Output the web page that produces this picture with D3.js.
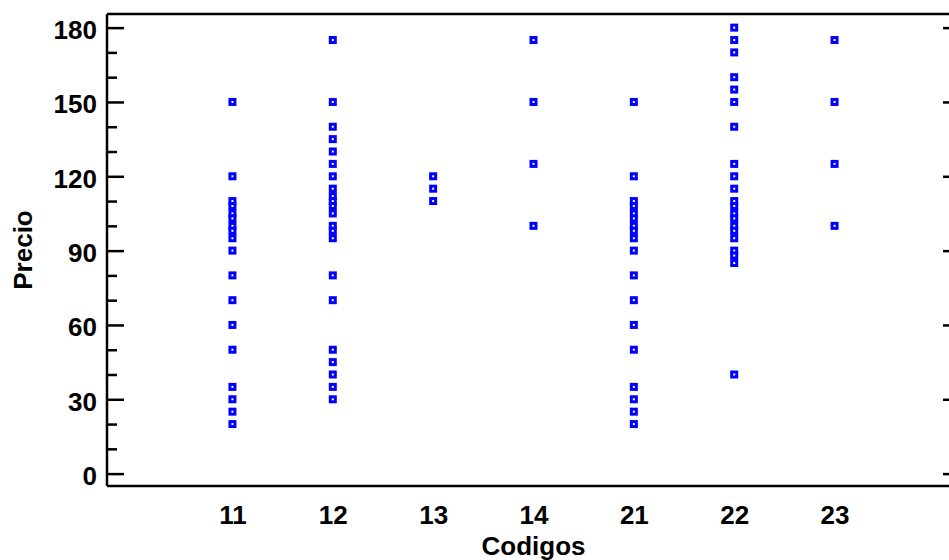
<!DOCTYPE html>
<html>
<head>
<meta charset="utf-8">
<script src="https://cdn.jsdelivr.net/npm/d3@7"></script>
<style>
  html, body { margin: 0; padding: 0; background: #fff; }
  svg { display: block; }
  text { font-family: "Liberation Sans", Arial, sans-serif; font-weight: bold; fill: #000; }
</style>
</head>
<body>
<svg id="chart" width="949" height="560"></svg>
<script>
// Price observations for each product code
const codigos = ["11", "12", "13", "14", "21", "22", "23"];
const precio11 = [150, 120, 110, 108, 105, 103, 100, 98, 95, 90, 80, 70, 60, 50, 35, 30, 25, 20];
const precio12 = [175, 150, 140, 135, 130, 125, 120, 115, 112, 110, 108, 105, 100, 98, 95, 80, 70, 50, 45, 40, 35, 30];
const precio13 = [120, 115, 110];
const precio14 = [175, 150, 125, 100];
const precio21 = [150, 120, 110, 108, 105, 103, 100, 98, 95, 90, 80, 70, 60, 50, 35, 30, 25, 20];
const precio22 = [180, 175, 170, 160, 155, 150, 140, 125, 120, 115, 110, 108, 105, 103, 100, 98, 95, 90, 88, 85, 40];
const precio23 = [175, 150, 125, 100];
const yMajorTicks = [0, 30, 60, 90, 120, 150, 180];
const yMinorTicks = [10, 20, 40, 50, 70, 80, 100, 110, 130, 140, 160, 170];

const series = [precio11, precio12, precio13, precio14, precio21, precio22, precio23];
const points = [];
codigos.forEach((c, i) => series[i].forEach(v => points.push({ codigo: c, precio: v })));

const svg = d3.select("#chart");
const plotLeft = 107, plotRight = 960, plotTop = 14, plotBottom = 486;
const fontSize = 26;

const x = d3.scalePoint().domain(codigos).range([plotLeft, plotRight]).padding(1.25);
const y = d3.scaleLinear().domain([-5, 185.5]).range([plotBottom, plotTop]);

// Frame
const frame = svg.append("g").attr("stroke", "#000").attr("stroke-width", 2.5).attr("fill", "none");
frame.append("line").attr("x1", plotLeft).attr("x2", plotRight).attr("y1", plotTop).attr("y2", plotTop);
frame.append("line").attr("x1", plotLeft).attr("x2", plotRight).attr("y1", plotBottom).attr("y2", plotBottom);
frame.append("line").attr("x1", plotLeft).attr("x2", plotLeft).attr("y1", plotTop).attr("y2", plotBottom);
frame.append("line").attr("x1", plotRight).attr("x2", plotRight).attr("y1", plotTop).attr("y2", plotBottom);

// Left axis: inward major and minor ticks
const yAxis = d3.axisLeft(y).tickValues(yMajorTicks).tickSize(-17).tickPadding(10).tickFormat(d3.format("d"));
const gy = svg.append("g").attr("transform", `translate(${plotLeft},0)`).call(yAxis);
gy.select(".domain").remove();
gy.selectAll(".tick line").attr("stroke", "#000").attr("stroke-width", 2.5);
gy.selectAll(".tick text").attr("font-size", fontSize).attr("dy", "0.42em")
  .style("font-family", "'Liberation Sans', Arial, sans-serif").style("font-weight", "bold");

const yMinor = d3.axisLeft(y).tickValues(yMinorTicks).tickSize(-10).tickFormat("");
const gym = svg.append("g").attr("transform", `translate(${plotLeft},0)`).call(yMinor);
gym.select(".domain").remove();
gym.selectAll(".tick line").attr("stroke", "#000").attr("stroke-width", 2.5);

// Right axis: inward major ticks only
const yRight = d3.axisRight(y).tickValues(yMajorTicks).tickSize(-17).tickFormat("");
const gyr = svg.append("g").attr("transform", `translate(${plotRight},0)`).call(yRight);
gyr.select(".domain").remove();
gyr.selectAll(".tick line").attr("stroke", "#000").attr("stroke-width", 2.5);

// Bottom axis labels (no tick marks)
const xAxis = d3.axisBottom(x).tickSize(0).tickPadding(20);
const gx = svg.append("g").attr("transform", `translate(0,${plotBottom})`).call(xAxis);
gx.select(".domain").remove();
gx.selectAll(".tick text").attr("font-size", fontSize)
  .style("font-family", "'Liberation Sans', Arial, sans-serif").style("font-weight", "bold");

// Axis titles
svg.append("text").attr("x", (plotLeft + plotRight) / 2).attr("y", 555)
  .attr("text-anchor", "middle").attr("font-size", fontSize).text("Codigos");
svg.append("text").attr("transform", `translate(32,${(plotTop + plotBottom) / 2}) rotate(-90)`)
  .attr("text-anchor", "middle").attr("font-size", fontSize).text("Precio");

// Points: hollow blue squares
const s = 5;
svg.append("g").selectAll("rect").data(points).join("rect")
  .attr("x", d => x(d.codigo) - s / 2)
  .attr("y", d => y(d.precio) - s / 2)
  .attr("width", s).attr("height", s)
  .attr("fill", "#fff").attr("stroke", "#0000ff").attr("stroke-width", 3);
</script>
</body>
</html>
